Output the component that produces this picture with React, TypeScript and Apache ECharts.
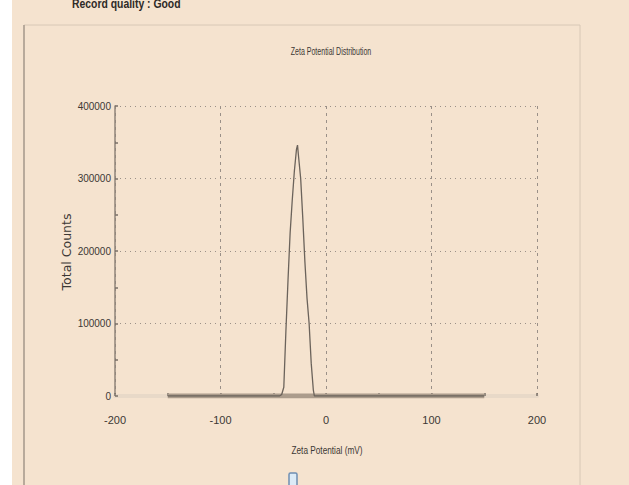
import React, { useEffect, useRef } from "react";
import * as echarts from "echarts";

const zetaMv = [-150, -60, -44, -42, -40, -38, -36, -34, -32, -30, -28, -27, -26, -24, -22, -20, -18, -16, -14, -12, -11, -8, 150];
const totalCounts = [0, 0, 0, 2000, 12000, 90000, 160000, 225000, 270000, 310000, 340000, 346000, 330000, 300000, 245000, 185000, 135000, 100000, 45000, 8000, 0, 0, 0];
const baselineRange = [-150, 150];
const xTicks = [-200, -100, 0, 100, 200];
const yTicks = [0, 100000, 200000, 300000, 400000];

const NARROW = "'Liberation Sans', sans-serif";

export default function App() {
  const ref = useRef<HTMLDivElement>(null);
  useEffect(() => {
    if (!ref.current) return;
    const chart = echarts.init(ref.current, undefined, { renderer: "svg" });
    const txt = "#3c3835";
    chart.setOption({
      animation: false,
      backgroundColor: "#ffffff",
      graphic: [
        { type: "rect", z: -10, shape: { x: 12, y: 0, width: 617, height: 485 }, style: { fill: "#f5e3cf" } },
        { type: "rect", z: -9, shape: { x: 24, y: 25, width: 556, height: 470 }, style: { fill: "#f5e3cf", stroke: "#d8c8b6", lineWidth: 1 } },
        { type: "line", z: -8, shape: { x1: 24, y1: 25, x2: 24, y2: 485 }, style: { stroke: "#a89b8e", lineWidth: 1.5 } },
        { type: "text", x: 72, y: -3, scaleX: 0.8, style: { text: "Record quality : Good", font: "bold 13px 'Liberation Sans', sans-serif", fill: "#2e2a27" } },
        { type: "text", x: 331, y: 51, scaleX: 0.64, style: { text: "Zeta Potential Distribution", font: "11px 'Liberation Sans', sans-serif", fill: txt, align: "center", verticalAlign: "middle" } },
        { type: "text", x: 327, y: 450, scaleX: 0.75, style: { text: "Zeta Potential (mV)", font: "11px 'Liberation Sans', sans-serif", fill: txt, align: "center", verticalAlign: "middle" } },
        { type: "text", x: 66, y: 252, rotation: Math.PI / 2, style: { text: "Total Counts", font: "12.5px 'DejaVu Sans', sans-serif", fill: txt, align: "center", verticalAlign: "middle" } },
        { type: "rect", shape: { x: 289, y: 473, width: 8, height: 14, r: 1.5 }, style: { fill: "#dcebf7", stroke: "#6f8fb3", lineWidth: 1.5 } },
      ],
      grid: { left: 115, right: 92, top: 106, bottom: 89, containLabel: false },
      xAxis: {
        type: "value",
        min: xTicks[0],
        max: xTicks[xTicks.length - 1],
        interval: 100,
        axisLine: { show: true, onZero: false, lineStyle: { color: "#e8d9c8", width: 4 } },
        axisTick: { show: true, inside: true, length: 3, lineStyle: { color: "#7a7168", width: 1.5 } },
        minorTick: { show: true, splitNumber: 2, length: 3, lineStyle: { color: "#7a7168", width: 1.5 } },
        splitLine: { show: true, lineStyle: { color: "#9a9088", type: [3, 4], width: 1 } },
        axisLabel: { color: txt, fontSize: 11, fontFamily: NARROW, margin: 18 },
      },
      yAxis: {
        type: "value",
        min: yTicks[0],
        max: yTicks[yTicks.length - 1],
        interval: 100000,
        axisLine: { show: true, onZero: false, lineStyle: { color: "#8f857a", width: 1.5 } },
        axisTick: { show: true, inside: true, length: 3, lineStyle: { color: "#7a7168", width: 1.5 } },
        minorTick: { show: true, splitNumber: 2, length: 3, lineStyle: { color: "#7a7168", width: 1.5 } },
        splitLine: { show: true, lineStyle: { color: "#9a9088", type: [1, 4], width: 1 } },
        axisLabel: { color: txt, fontSize: 10, fontFamily: NARROW, margin: 4, formatter: (v: number) => String(v) },
      },
      series: [
        {
          type: "line",
          name: "baseline",
          data: baselineRange.map((x) => [x, 0]),
          showSymbol: false,
          lineStyle: { color: "#ab9c8c", width: 5 },
          z: 2,
        },
        {
          type: "line",
          name: "Zeta distribution",
          data: zetaMv.map((x, i) => [x, totalCounts[i]]),
          showSymbol: false,
          lineStyle: { color: "#6b635b", width: 1.3 },
          z: 3,
        },
      ],
    });
    return () => chart.dispose();
  }, []);
  return <div ref={ref} style={{ position: "fixed", left: 0, top: 0, width: 629, height: 485 }} />;
}
